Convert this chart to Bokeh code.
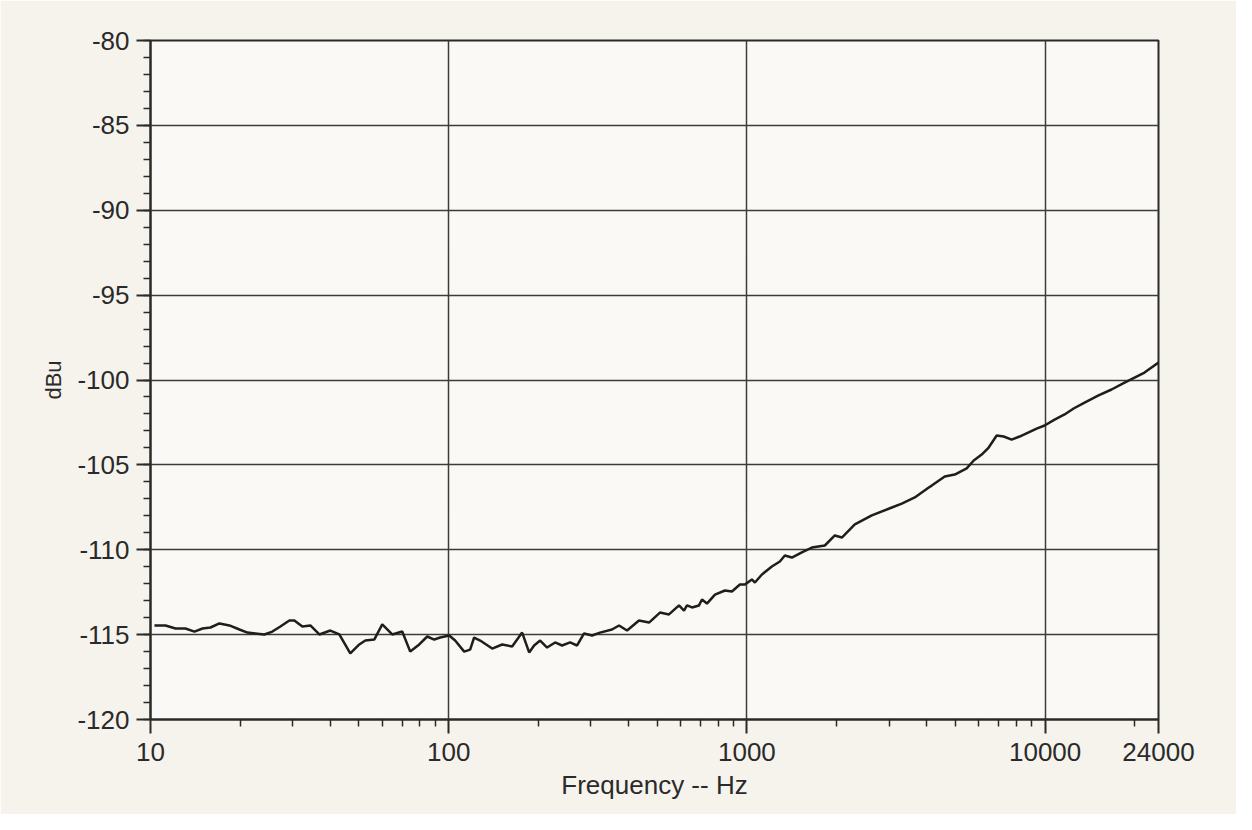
from bokeh.plotting import figure
from bokeh.models import FixedTicker, PrintfTickFormatter
from bokeh.embed import file_html
from bokeh.resources import INLINE

# Data: frequency (Hz) and level (dBu)
freq = [10.31, 11.23, 12.13, 13.10, 14.04, 14.94, 15.89, 17.03, 18.39, 19.87,
        21.13, 22.47, 24.09, 25.63, 27.26, 29.22, 30.37, 32.30, 34.36, 36.84,
        40.09, 42.97, 46.77, 50.14, 52.52, 56.28, 59.86, 64.66, 69.85, 74.30,
        79.66, 84.72, 89.42, 93.65, 100.4, 105.1, 112.7, 118.0, 121.7, 127.5,
        139.9, 151.1, 163.2, 176.3, 186.1, 193.4, 202.6, 213.8, 227.4, 240.0,
        255.3, 269.5, 284.4, 302.5, 321.7, 352.9, 372.5, 396.3, 434.6, 469.6,
        511.0, 547.9, 591.9, 615.2, 629.6, 654.4, 690.7, 706.8, 734.5, 781.3,
        843.8, 890.7, 947.3, 984.7, 1039.4, 1063.6, 1122.8, 1212.5, 1289.7, 1340.3,
        1415.0, 1528.4, 1651.0, 1825.3, 1971.7, 2081.3, 2300.8, 2623.1, 3061.3, 3306.8,
        3655.3, 4072.4, 4167.5, 4606.8, 4975.9, 5457.5, 5761.5, 6127.9, 6467.6, 6879.6,
        7261.6, 7721.9, 8212.4, 8804.0, 9365.0, 9961.0, 10760, 11622, 12460, 13563,
        15109, 16703, 18469, 21544, 24000]
dbu = [-114.46, -114.46, -114.64, -114.64, -114.82, -114.64, -114.58, -114.34, -114.46, -114.70,
       -114.88, -114.93, -114.99, -114.82, -114.52, -114.17, -114.17, -114.52, -114.46, -114.99,
       -114.76, -114.99, -116.11, -115.58, -115.35, -115.29, -114.40, -114.99, -114.82, -116.00,
       -115.58, -115.11, -115.29, -115.17, -115.05, -115.35, -116.00, -115.88, -115.17, -115.35,
       -115.82, -115.58, -115.70, -114.88, -116.05, -115.64, -115.35, -115.76, -115.46, -115.64,
       -115.46, -115.64, -114.93, -115.05, -114.88, -114.70, -114.46, -114.76, -114.17, -114.29,
       -113.70, -113.81, -113.28, -113.58, -113.28, -113.40, -113.28, -112.93, -113.17, -112.64,
       -112.40, -112.46, -112.05, -112.05, -111.75, -111.93, -111.46, -110.99, -110.69, -110.34,
       -110.46, -110.16, -109.87, -109.75, -109.16, -109.28, -108.51, -107.98, -107.51, -107.28,
       -106.92, -106.33, -106.22, -105.68, -105.57, -105.21, -104.74, -104.39, -103.98, -103.27,
       -103.33, -103.51, -103.33, -103.09, -102.86, -102.68, -102.33, -102.03, -101.68, -101.33,
       -100.91, -100.56, -100.15, -99.56, -98.97]

x_ticks = [10, 100, 1000, 10000, 24000]
x_minor = [20, 30, 40, 50, 60, 70, 80, 90,
           200, 300, 400, 500, 600, 700, 800, 900,
           2000, 3000, 4000, 5000, 6000, 7000, 8000, 9000, 20000]
y_ticks = [-120, -115, -110, -105, -100, -95, -90, -85, -80]
y_minor = list(range(-120, -79))

FONT = "Liberation Sans"
INK = "#2a2a2a"

p = figure(width=1236, height=814, x_axis_type="log",
           x_range=(10, 24000), y_range=(-120, -80),
           output_backend="svg", toolbar_location=None,
           min_border_left=150, min_border_right=78,
           min_border_top=40, min_border_bottom=95)

p.background_fill_color = "#fbf9f5"
p.border_fill_color = "#f6f3ed"
p.outline_line_color = INK
p.outline_line_width = 2

xt = FixedTicker(ticks=x_ticks, minor_ticks=x_minor)
yt = FixedTicker(ticks=y_ticks, minor_ticks=y_minor)
p.xaxis.ticker = xt
p.yaxis.ticker = yt
p.xaxis.formatter = PrintfTickFormatter(format="%d")
p.yaxis.formatter = PrintfTickFormatter(format="%d")
p.xgrid.ticker = xt
p.ygrid.ticker = yt

for g in (p.xgrid, p.ygrid):
    g.grid_line_color = "#3c3c3c"
    g.grid_line_width = 1.5
    g.grid_line_alpha = 1.0

for ax in (p.xaxis, p.yaxis):
    ax.axis_line_color = INK
    ax.axis_line_width = 2
    ax.major_tick_line_color = INK
    ax.major_tick_line_width = 2
    ax.minor_tick_line_color = INK
    ax.minor_tick_line_width = 1.5
    ax.major_tick_in = 0
    ax.major_tick_out = 14
    ax.minor_tick_in = 0
    ax.minor_tick_out = 7
    ax.major_label_text_font = FONT
    ax.major_label_text_color = INK
    ax.axis_label_text_font = FONT
    ax.axis_label_text_color = INK
    ax.axis_label_text_font_style = "normal"

p.yaxis.major_label_text_font_size = "26px"
p.xaxis.major_label_text_font_size = "26px"
p.yaxis.major_label_standoff = 7
p.xaxis.major_label_standoff = 9

p.xaxis.axis_label = "Frequency -- Hz"
p.yaxis.axis_label = "dBu"
p.xaxis.axis_label_text_font_size = "26px"
p.yaxis.axis_label_text_font_size = "22px"
p.xaxis.axis_label_standoff = 6
p.yaxis.axis_label_standoff = 8

p.line(freq, dbu, line_color="#1e1e1e", line_width=2.5)

open("out.html", "w").write(file_html(p, INLINE))
